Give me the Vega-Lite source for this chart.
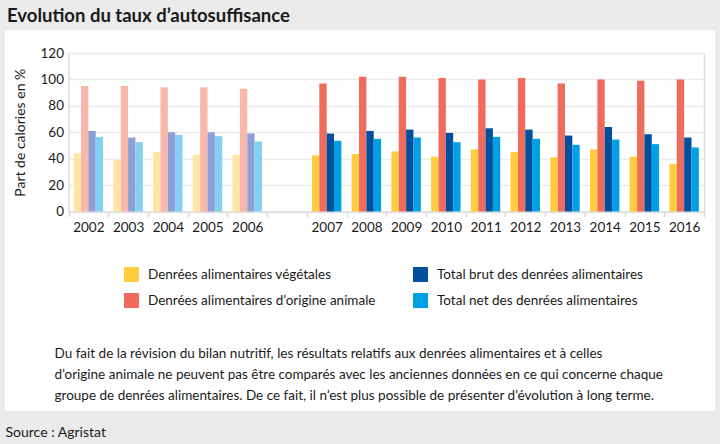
{
  "$schema": "https://vega.github.io/schema/vega-lite/v6.json",
  "width": 710,
  "height": 381,
  "autosize": {"type": "none"},
  "padding": {"left": 5, "top": 30, "right": 5, "bottom": 33},
  "background": "#ebebeb",
  "title": {"text": "Evolution du taux d’autosuffisance", "anchor": "start", "frame": "group", "fontSize": 18.5, "fontWeight": "bold", "font": "Lato", "color": "#1a1a1a", "offset": 5, "dx": 2},
  "config": {"view": {"fill": "white", "stroke": null}, "font": "Lato"},
  "data": {"values": [
    {"annee": "2002", "periode": "ancienne", "categorie": "Denrées alimentaires végétales", "valeur": 44},
    {"annee": "2002", "periode": "ancienne", "categorie": "Denrées alimentaires d’origine animale", "valeur": 95},
    {"annee": "2002", "periode": "ancienne", "categorie": "Total brut des denrées alimentaires", "valeur": 61},
    {"annee": "2002", "periode": "ancienne", "categorie": "Total net des denrées alimentaires", "valeur": 56.5},
    {"annee": "2003", "periode": "ancienne", "categorie": "Denrées alimentaires végétales", "valeur": 39},
    {"annee": "2003", "periode": "ancienne", "categorie": "Denrées alimentaires d’origine animale", "valeur": 95},
    {"annee": "2003", "periode": "ancienne", "categorie": "Total brut des denrées alimentaires", "valeur": 56},
    {"annee": "2003", "periode": "ancienne", "categorie": "Total net des denrées alimentaires", "valeur": 52.5},
    {"annee": "2004", "periode": "ancienne", "categorie": "Denrées alimentaires végétales", "valeur": 45},
    {"annee": "2004", "periode": "ancienne", "categorie": "Denrées alimentaires d’origine animale", "valeur": 94},
    {"annee": "2004", "periode": "ancienne", "categorie": "Total brut des denrées alimentaires", "valeur": 60},
    {"annee": "2004", "periode": "ancienne", "categorie": "Total net des denrées alimentaires", "valeur": 58},
    {"annee": "2005", "periode": "ancienne", "categorie": "Denrées alimentaires végétales", "valeur": 43},
    {"annee": "2005", "periode": "ancienne", "categorie": "Denrées alimentaires d’origine animale", "valeur": 94},
    {"annee": "2005", "periode": "ancienne", "categorie": "Total brut des denrées alimentaires", "valeur": 60},
    {"annee": "2005", "periode": "ancienne", "categorie": "Total net des denrées alimentaires", "valeur": 57},
    {"annee": "2006", "periode": "ancienne", "categorie": "Denrées alimentaires végétales", "valeur": 43},
    {"annee": "2006", "periode": "ancienne", "categorie": "Denrées alimentaires d’origine animale", "valeur": 93},
    {"annee": "2006", "periode": "ancienne", "categorie": "Total brut des denrées alimentaires", "valeur": 59},
    {"annee": "2006", "periode": "ancienne", "categorie": "Total net des denrées alimentaires", "valeur": 53},
    {"annee": "2007", "periode": "nouvelle", "categorie": "Denrées alimentaires végétales", "valeur": 42.5},
    {"annee": "2007", "periode": "nouvelle", "categorie": "Denrées alimentaires d’origine animale", "valeur": 97},
    {"annee": "2007", "periode": "nouvelle", "categorie": "Total brut des denrées alimentaires", "valeur": 59},
    {"annee": "2007", "periode": "nouvelle", "categorie": "Total net des denrées alimentaires", "valeur": 53.5},
    {"annee": "2008", "periode": "nouvelle", "categorie": "Denrées alimentaires végétales", "valeur": 43.5},
    {"annee": "2008", "periode": "nouvelle", "categorie": "Denrées alimentaires d’origine animale", "valeur": 102},
    {"annee": "2008", "periode": "nouvelle", "categorie": "Total brut des denrées alimentaires", "valeur": 61},
    {"annee": "2008", "periode": "nouvelle", "categorie": "Total net des denrées alimentaires", "valeur": 55},
    {"annee": "2009", "periode": "nouvelle", "categorie": "Denrées alimentaires végétales", "valeur": 45.5},
    {"annee": "2009", "periode": "nouvelle", "categorie": "Denrées alimentaires d’origine animale", "valeur": 102},
    {"annee": "2009", "periode": "nouvelle", "categorie": "Total brut des denrées alimentaires", "valeur": 62},
    {"annee": "2009", "periode": "nouvelle", "categorie": "Total net des denrées alimentaires", "valeur": 56},
    {"annee": "2010", "periode": "nouvelle", "categorie": "Denrées alimentaires végétales", "valeur": 41.5},
    {"annee": "2010", "periode": "nouvelle", "categorie": "Denrées alimentaires d’origine animale", "valeur": 101},
    {"annee": "2010", "periode": "nouvelle", "categorie": "Total brut des denrées alimentaires", "valeur": 59.5},
    {"annee": "2010", "periode": "nouvelle", "categorie": "Total net des denrées alimentaires", "valeur": 52.5},
    {"annee": "2011", "periode": "nouvelle", "categorie": "Denrées alimentaires végétales", "valeur": 47},
    {"annee": "2011", "periode": "nouvelle", "categorie": "Denrées alimentaires d’origine animale", "valeur": 100},
    {"annee": "2011", "periode": "nouvelle", "categorie": "Total brut des denrées alimentaires", "valeur": 63},
    {"annee": "2011", "periode": "nouvelle", "categorie": "Total net des denrées alimentaires", "valeur": 56.5},
    {"annee": "2012", "periode": "nouvelle", "categorie": "Denrées alimentaires végétales", "valeur": 45},
    {"annee": "2012", "periode": "nouvelle", "categorie": "Denrées alimentaires d’origine animale", "valeur": 101},
    {"annee": "2012", "periode": "nouvelle", "categorie": "Total brut des denrées alimentaires", "valeur": 62},
    {"annee": "2012", "periode": "nouvelle", "categorie": "Total net des denrées alimentaires", "valeur": 55},
    {"annee": "2013", "periode": "nouvelle", "categorie": "Denrées alimentaires végétales", "valeur": 41},
    {"annee": "2013", "periode": "nouvelle", "categorie": "Denrées alimentaires d’origine animale", "valeur": 97},
    {"annee": "2013", "periode": "nouvelle", "categorie": "Total brut des denrées alimentaires", "valeur": 57.5},
    {"annee": "2013", "periode": "nouvelle", "categorie": "Total net des denrées alimentaires", "valeur": 50.5},
    {"annee": "2014", "periode": "nouvelle", "categorie": "Denrées alimentaires végétales", "valeur": 47},
    {"annee": "2014", "periode": "nouvelle", "categorie": "Denrées alimentaires d’origine animale", "valeur": 100},
    {"annee": "2014", "periode": "nouvelle", "categorie": "Total brut des denrées alimentaires", "valeur": 64},
    {"annee": "2014", "periode": "nouvelle", "categorie": "Total net des denrées alimentaires", "valeur": 54.5},
    {"annee": "2015", "periode": "nouvelle", "categorie": "Denrées alimentaires végétales", "valeur": 41.5},
    {"annee": "2015", "periode": "nouvelle", "categorie": "Denrées alimentaires d’origine animale", "valeur": 99},
    {"annee": "2015", "periode": "nouvelle", "categorie": "Total brut des denrées alimentaires", "valeur": 58.5},
    {"annee": "2015", "periode": "nouvelle", "categorie": "Total net des denrées alimentaires", "valeur": 51},
    {"annee": "2016", "periode": "nouvelle", "categorie": "Denrées alimentaires végétales", "valeur": 36},
    {"annee": "2016", "periode": "nouvelle", "categorie": "Denrées alimentaires d’origine animale", "valeur": 100},
    {"annee": "2016", "periode": "nouvelle", "categorie": "Total brut des denrées alimentaires", "valeur": 56},
    {"annee": "2016", "periode": "nouvelle", "categorie": "Total net des denrées alimentaires", "valeur": 48.5}
  ]},
  "layer": [
    {
      "transform": [{"filter": "datum.periode == 'ancienne'"}],
      "mark": {"type": "bar"},
      "encoding": {
        "x": {"field": "annee", "type": "nominal",
          "scale": {"domain": ["2002", "2003", "2004", "2005", "2006", "gap", "2007", "2008", "2009", "2010", "2011", "2012", "2013", "2014", "2015", "2016"], "range": [63.5, 699], "paddingInner": 0, "paddingOuter": 0},
          "axis": {"orient": "bottom", "offset": -199.5, "grid": false, "labelAngle": 0, "labelFontSize": 13.5, "labelColor": "#1a1a1a", "labelPadding": 4,
            "labelExpr": "datum.value == 'gap' ? '' : datum.label",
            "tickBand": "extent", "tickSize": 5, "tickColor": "#dadada", "tickWidth": 1.5, "domainColor": "#dcdcdc", "domainWidth": 1.5,
            "title": ["Du fait de la révision du bilan nutritif, les résultats relatifs aux denrées alimentaires et à celles", "d’origine animale ne peuvent pas être comparés avec les anciennes données en ce qui concerne chaque", "groupe de denrées alimentaires. De ce fait, il n’est plus possible de présenter d’évolution à long terme."],
            "titleX": 49, "titleY": 146, "titleAlign": "left", "titleAnchor": "start", "titleBaseline": "alphabetic", "titleAngle": 0,
            "titleFontSize": 13.5, "titleFontWeight": "normal", "titleColor": "#1a1a1a", "titleLineHeight": 21}},
        "xOffset": {"field": "categorie", "type": "nominal",
          "scale": {"domain": ["Denrées alimentaires végétales", "Denrées alimentaires d’origine animale", "Total brut des denrées alimentaires", "Total net des denrées alimentaires"], "paddingInner": 0, "paddingOuter": 0.7}},
        "y": {"field": "valeur", "type": "quantitative",
          "scale": {"domain": [0, 120], "range": [181.5, 23], "nice": false},
          "axis": {"orient": "left", "offset": -63.5, "values": [0, 20, 40, 60, 80, 100, 120], "ticks": false, "tickSize": 0,
            "labelFontSize": 13.5, "labelColor": "#1a1a1a", "labelPadding": 5,
            "domainColor": "#dcdcdc", "domainWidth": 1.5, "grid": true, "gridColor": "#ebebeb", "gridWidth": 1.5,
            "title": "Part de calories en %", "titleFontSize": 14, "titleFontWeight": "normal", "titleColor": "#1a1a1a", "titlePadding": 13}},
        "color": {"field": "categorie", "type": "nominal",
          "scale": {"domain": ["Denrées alimentaires végétales", "Denrées alimentaires d’origine animale", "Total brut des denrées alimentaires", "Total net des denrées alimentaires"], "range": ["#fde5a6", "#f8b7a9", "#8d9fd4", "#84d0f2"]},
          "legend": null}
      }
    },
    {
      "transform": [{"filter": "datum.periode == 'nouvelle'"}],
      "mark": {"type": "bar"},
      "encoding": {
        "x": {"field": "annee", "type": "nominal",
          "scale": {"domain": ["2002", "2003", "2004", "2005", "2006", "gap", "2007", "2008", "2009", "2010", "2011", "2012", "2013", "2014", "2015", "2016"], "range": [63.5, 699], "paddingInner": 0, "paddingOuter": 0},
          "axis": null},
        "xOffset": {"field": "categorie", "type": "nominal",
          "scale": {"domain": ["Denrées alimentaires végétales", "Denrées alimentaires d’origine animale", "Total brut des denrées alimentaires", "Total net des denrées alimentaires"], "paddingInner": 0, "paddingOuter": 0.7}},
        "y": {"field": "valeur", "type": "quantitative",
          "scale": {"domain": [0, 120], "range": [181.5, 23], "nice": false},
          "axis": null},
        "color": {"field": "categorie", "type": "nominal",
          "scale": {"domain": ["Denrées alimentaires végétales", "Denrées alimentaires d’origine animale", "Total brut des denrées alimentaires", "Total net des denrées alimentaires"], "range": ["#fecc3e", "#ef6b5c", "#00509e", "#00a1e4"]},
          "legend": {"title": null, "orient": "none", "legendX": 119, "legendY": 237, "columns": 2,
            "symbolType": "square", "symbolSize": 225, "symbolStrokeWidth": 0, "symbolOpacity": 1,
            "labelFontSize": 13.5, "labelColor": "#1a1a1a", "labelOffset": 9, "labelLimit": 400, "rowPadding": 11, "columnPadding": 37}}
      }
    },
    {
      "mark": {"type": "point", "opacity": 0},
      "encoding": {
        "y": {"field": "valeur", "type": "quantitative",
          "scale": {"domain": [0, 120], "range": [181.5, 23], "nice": false},
          "axis": {"orient": "right", "offset": -11, "labels": false, "ticks": false, "grid": false,
            "domainColor": "#dcdcdc", "domainWidth": 1.5,
            "title": "Source : Agristat", "titleAngle": 0, "titleX": -699, "titleY": 406, "titleAlign": "left", "titleBaseline": "alphabetic",
            "titleFontSize": 14, "titleFontWeight": "normal", "titleColor": "#1a1a1a"}}
      }
    }
  ],
  "resolve": {"scale": {"color": "independent"}, "axis": {"x": "independent", "y": "independent"}}
}
